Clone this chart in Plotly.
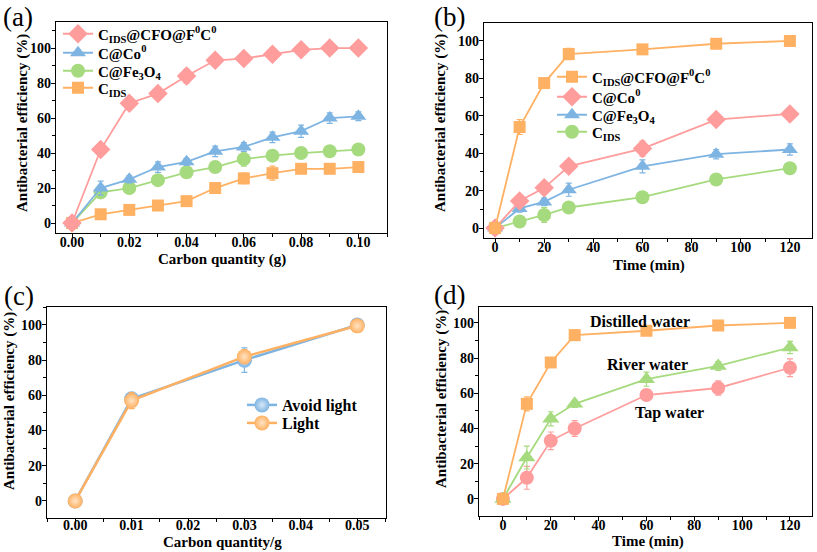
import plotly.graph_objects as go

W, H = 817, 552
FONT = "Liberation Serif"

PINK = "#FF9C9C"
BLUE = "#7EB4E2"
GREEN = "#A6DA7E"
ORANGE = "#FFB163"

# ---------- data ----------
# (a)
a_x = [0, 0.01, 0.02, 0.03, 0.04, 0.05, 0.06, 0.07, 0.08, 0.09, 0.10]
a_cfo = [0, 42, 68.5, 74, 84, 93, 94, 96.5, 99, 100, 100]
a_cfo_err = [1, 2.5, 2, 1.5, 4, 1.5, 1.5, 1.5, 1.5, 1, 1]
a_co = [0, 20, 25, 32, 35, 41, 43.5, 49, 52.5, 60, 61]
a_co_err = [1.5, 4, 2, 3, 2, 3, 2.5, 3, 3.5, 3, 2.5]
a_fe = [0, 17.5, 20, 24.5, 29, 32, 36.5, 38.5, 40, 41, 42]
a_fe_err = [1, 3, 2, 3, 2, 2, 4, 2, 2, 1.5, 1.5]
a_ids = [0, 5, 7.5, 10, 12.5, 20, 25.5, 28.5, 31, 31, 32]
a_ids_err = [1, 1.5, 1.5, 2.5, 1.5, 1.5, 3, 4, 1.5, 1.5, 1.5]

# (b)
b_x = [0, 10, 20, 30, 60, 90, 120]
b_cfo = [0, 54, 77.5, 93, 95.5, 98.5, 100]
b_cfo_err = [1, 4, 2.5, 3, 1.5, 2, 1]
b_co = [0, 14.5, 21.5, 33, 42.5, 58, 61]
b_co_err = [1, 1.5, 1.5, 1.5, 4, 1.5, 1.5]
b_fe = [0, 10.5, 14, 20.5, 33, 39.5, 42]
b_fe_err = [1, 2, 2, 3.5, 3.5, 2.5, 3]
b_ids = [0, 3.5, 7, 11, 16.5, 26, 32]
b_ids_err = [1, 1.5, 4, 1.5, 1.5, 1.5, 1.5]

# (c)
c_x = [0, 0.01, 0.03, 0.05]
c_dark = [0, 58, 80, 100]
c_dark_err = [0.5, 2.5, 7, 1]
c_light = [0, 57, 82, 99.5]
c_light_err = [0.5, 4.5, 4, 1]

# (d)
d_x = [0, 10, 20, 30, 60, 90, 120]
d_dist = [0, 54, 77.5, 93, 95.5, 98.5, 100]
d_dist_err = [1, 4, 2.5, 3, 1.5, 2, 1]
d_river = [0, 23.5, 45.5, 54, 68, 75.5, 86]
d_river_err = [1, 6.5, 4, 2, 4, 2.5, 3.5]
d_tap = [0, 12, 33, 40, 59, 63, 74.5]
d_tap_err = [1, 6.5, 5, 4.5, 1.5, 4, 5]

LEG_A = ["C<sub>IDS</sub>@CFO@F<sup>0</sup>C<sup>0</sup>", "C@Co<sup>0</sup>",
         "C@Fe<sub>3</sub>O<sub>4</sub>", "C<sub>IDS</sub>"]
LEG_C = ["Avoid light", "Light"]
LABELS_D = ["Distilled water", "River water", "Tap water"]
X_TITLES = ["Carbon quantity (g)", "Time (min)", "Carbon quantity/g", "Time (min)"]
Y_TITLE = "Antibacterial efficiency (%)"

fig = go.Figure()


def add(x, y, err, color, symbol, size, name, xa, ya, legend=None, show=True, lw=1.8, grad=None):
    marker = dict(color=color, symbol=symbol, size=size, line=dict(width=0))
    if grad:
        marker["gradient"] = dict(type="radial", color=grad)
    fig.add_trace(go.Scatter(
        x=x, y=y, mode="lines+markers", name=name,
        line=dict(color=color, width=lw),
        marker=marker,
        error_y=dict(type="data", array=err, color=color, thickness=1.2, width=3),
        xaxis=xa, yaxis=ya, legend=legend, showlegend=show,
    ))

# (a) - bottom series drawn first
add(a_x, a_ids, a_ids_err, ORANGE, "square", 12, LEG_A[3], "x", "y", "legend4")
add(a_x, a_fe, a_fe_err, GREEN, "circle", 14, LEG_A[2], "x", "y", "legend3")
add(a_x, a_co, a_co_err, BLUE, "triangle-up", 14, LEG_A[1], "x", "y", "legend2")
add(a_x, a_cfo, a_cfo_err, PINK, "diamond", 15, LEG_A[0], "x", "y", "legend")

# (b)
add(b_x, b_ids, b_ids_err, GREEN, "circle", 14, LEG_A[3], "x2", "y2", "legend8")
add(b_x, b_fe, b_fe_err, BLUE, "triangle-up", 14, LEG_A[2], "x2", "y2", "legend7")
add(b_x, b_co, b_co_err, PINK, "diamond", 15, LEG_A[1], "x2", "y2", "legend6")
add(b_x, b_cfo, b_cfo_err, ORANGE, "square", 12, LEG_A[0], "x2", "y2", "legend5")

# (c)
add(c_x, c_dark, c_dark_err, BLUE, "circle", 15, LEG_C[0], "x3", "y3", "legend9", lw=2.5, grad="#D6E8F7")
add(c_x, c_light, c_light_err, ORANGE, "circle", 15, LEG_C[1], "x3", "y3", "legend10", lw=2.5, grad="#FFE3C4")

# (d)
add(d_x, d_tap, d_tap_err, PINK, "circle", 14, LABELS_D[2], "x4", "y4", show=False)
add(d_x, d_river, d_river_err, GREEN, "triangle-up", 15, LABELS_D[1], "x4", "y4", show=False)
add(d_x, d_dist, d_dist_err, ORANGE, "square", 12, LABELS_D[0], "x4", "y4", show=False)

tickfont = dict(family=FONT, size=14, color="black", weight="bold")
titlefont = dict(family=FONT, size=15, color="black", weight="bold")


def xax(dom, rng, dtick, minor, fmt=None, anchor="y", lstand=-8):
    d = dict(domain=dom, range=rng, dtick=dtick, tick0=0, ticks="outside", ticklen=4,
             tickwidth=1.2, tickcolor="black", ticklabelstandoff=lstand,
             minor=dict(dtick=minor, tick0=0, ticks="outside", ticklen=3, tickcolor="black", tickwidth=1),
             showline=True, mirror=True, linecolor="black", linewidth=1.2,
             showgrid=False, zeroline=False, tickfont=tickfont, anchor=anchor)
    if fmt:
        d["tickformat"] = fmt
    return d


def yax(dom, rng, anchor):
    return dict(domain=dom, range=rng, dtick=20, tick0=0, ticks="outside", ticklen=4,
                tickwidth=1.2, tickcolor="black", ticklabelstandoff=-3,
                minor=dict(dtick=10, tick0=0, ticks="outside", ticklen=3, tickcolor="black", tickwidth=1),
                showline=True, mirror=True, linecolor="black", linewidth=1.2,
                showgrid=False, zeroline=False, tickfont=tickfont, anchor=anchor)


def px_x(p):
    return p / W


def px_y(p):
    return 1 - p / H


def leg(xp, yp, size=15):
    return dict(x=px_x(xp), y=px_y(yp), xanchor="left", yanchor="middle",
                bgcolor="rgba(0,0,0,0)", itemwidth=30, tracegroupgap=0,
                font=dict(family=FONT, size=size, color="black", weight="bold"))


fig.update_layout(
    width=W, height=H, margin=dict(l=0, r=0, t=0, b=0),
    paper_bgcolor="white", plot_bgcolor="white",
    font=dict(family=FONT, color="black"),
    xaxis=xax([px_x(56), px_x(387)], [-0.0056, 0.110], 0.02, 0.01, ".2f", "y"),
    yaxis=yax([px_y(233), px_y(22)], [-5.7, 114.9], "x"),
    xaxis2=xax([px_x(484), px_x(812)], [-4.5, 129], 20, 10, None, "y2"),
    yaxis2=yax([px_y(238), px_y(23)], [-5.3, 109.6], "x2"),
    xaxis3=xax([px_x(47), px_x(386)], [-0.005, 0.0551], 0.01, 0.005, ".2f", "y3", lstand=-10),
    yaxis3=yax([px_y(518), px_y(307)], [-9.7, 110.2], "x3"),
    xaxis4=xax([px_x(479), px_x(812)], [-10, 129.2], 20, 10, None, "y4"),
    yaxis4=yax([px_y(516), px_y(307)], [-9.7, 109], "x4"),
    legend=leg(58, 34), legend2=leg(58, 53), legend3=leg(58, 71), legend4=leg(58, 88),
    legend5=leg(552, 77), legend6=leg(552, 97), legend7=leg(552, 115), legend8=leg(552, 132),
    legend9=leg(242, 405, 16), legend10=leg(242, 423, 16),
)

ann = []
for txt, cx, cy in [("(a)", 18, 17), ("(b)", 450, 17), ("(c)", 19, 296), ("(d)", 450, 295)]:
    ann.append(dict(text=txt, x=px_x(cx), y=px_y(cy), xref="paper", yref="paper",
                    showarrow=False, font=dict(family=FONT, size=27, color="black"),
                    xanchor="center", yanchor="middle"))
for txt, cx, cy in [(LABELS_D[0], 640, 321), (LABELS_D[1], 647, 364), (LABELS_D[2], 669, 413)]:
    ann.append(dict(text=txt, x=px_x(cx), y=px_y(cy), xref="paper", yref="paper",
                    showarrow=False, font=dict(family=FONT, size=16, color="black", weight="bold"),
                    xanchor="center", yanchor="middle"))
# axis titles
for txt, cx, cy in zip(X_TITLES, [222, 649, 222, 648], [259, 265, 542, 541]):
    ann.append(dict(text=txt, x=px_x(cx), y=px_y(cy), xref="paper", yref="paper",
                    showarrow=False, font=titlefont, xanchor="center", yanchor="middle",
                    borderpad=0))
for cx, cy in [(22, 123), (440, 123), (9, 401), (441, 399)]:
    ann.append(dict(text=Y_TITLE, x=px_x(cx), y=px_y(cy), xref="paper", yref="paper",
                    showarrow=False, font=titlefont, textangle=-90,
                    xanchor="center", yanchor="middle", borderpad=0))
fig.update_layout(annotations=ann)

fig.write_html("out.html", config={"displayModeBar": False},
               post_script="document.body.style.margin='0';document.body.style.padding='0';")
